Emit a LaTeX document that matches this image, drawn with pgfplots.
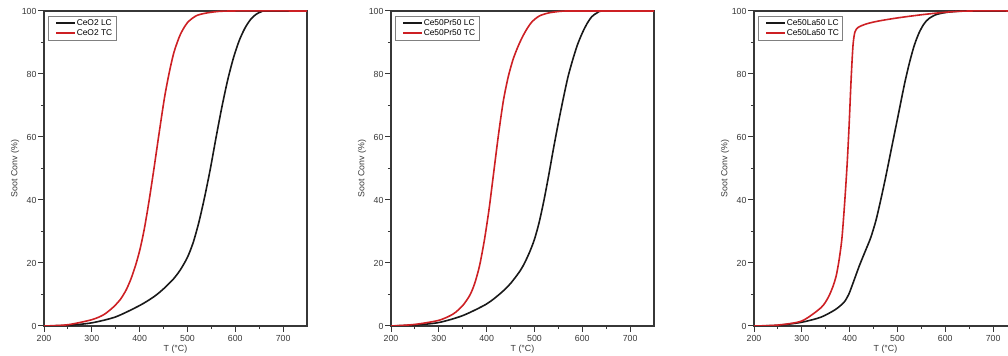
\documentclass[border=0pt]{standalone}
\usepackage{fontspec}
\setmainfont{Liberation Sans}
\usepackage{pgfplots}
\pgfplotsset{compat=1.18}
\definecolor{tcred}{RGB}{205,32,36}
\definecolor{lcblack}{RGB}{25,25,25}
\definecolor{axgray}{RGB}{55,55,55}
\newcommand{\smallf}{\fontsize{4.4}{5}\selectfont}
\newcommand{\legf}{\fontsize{4.2}{5}\selectfont}
\pgfplotsset{soot/.style={
  scale only axis, width=131.5pt, height=157.5pt, anchor=south west,
  xmin=200, xmax=750, ymin=0, ymax=100,
  xtick={200,300,...,700}, minor x tick num=1,
  ytick={0,20,...,100}, minor y tick num=1,
  tick pos=left, tick align=outside,
  major tick length=3pt, minor tick length=1.6pt,
  axis line style={axgray, line width=0.75pt},
  every tick/.style={axgray, line width=0.5pt},
  /pgf/number format/assume math mode=true,
  ticklabel style={font=\smallf, text=axgray},
  xticklabel style={yshift=2pt},
  yticklabel style={xshift=2.75pt},
  xlabel={T (°C)}, ylabel={Soot Conv (\%)},
  label style={font=\smallf, text=axgray},
  xlabel style={at={(axis description cs:0.5,0)}, anchor=center, yshift=-11.5pt},
  ylabel style={at={(axis description cs:0,0.5)}, anchor=center, yshift=14.5pt},
  legend style={at={(0,1)}, anchor=north west, xshift=2pt, yshift=-2.3pt,
    draw=gray, line width=0.4pt, font=\legf, inner xsep=1.6pt, inner ysep=1.2pt,
    row sep=0.4pt, nodes={inner sep=0.3pt, text height=3.1pt, text depth=0.9pt}},
  legend cell align=left,
  legend image code/.code={\path (0pt,0pt); \draw[#1, line width=0.75pt] (2pt,0pt) -- (11.5pt,0pt);},
  every axis plot/.append style={line width=0.8pt, smooth, tension=0.45, mark=none},
}}
\begin{document}
\begin{tikzpicture}
% Panel 1: CeO2
\begin{axis}[soot, at={(22pt,15pt)}]
\addplot[lcblack] coordinates {
(200,0) (250,0.2) (300,1.0) (350,2.9) (400,6.5) (430,9.3) (450,11.8) (470,14.8)
(485,17.8) (500,21.8) (512,26.5) (524,33) (536,41) (548,50) (560,60) (572,69.5)
(584,78) (596,85) (608,90.5) (620,94.5) (632,97.3) (644,99) (655,99.8) (665,100) (750,100)};
\addplot[tcred] coordinates {
(200,0) (250,0.4) (300,2.0) (325,3.6) (345,6) (360,8.5) (372,11.5) (382,15)
(392,19.5) (401,24.5) (410,31) (420,40) (430,50) (441,61.5) (452,72.5) (462,80.5)
(472,87) (485,92.5) (500,96.3) (520,98.6) (550,99.6) (590,100) (750,100)};
\legend{CeO2 LC, CeO2 TC}
\end{axis}
% Panel 2: Ce50Pr50
\begin{axis}[soot, at={(195.5pt,15pt)}]
\addplot[lcblack] coordinates {
(200,0) (250,0.3) (300,1.1) (350,3.3) (400,7) (430,10.5) (450,13.5) (470,17.5)
(480,20.2) (490,23.5) (500,27.5) (510,33) (520,40) (530,48) (540,56.5) (550,64.5)
(560,72) (570,79) (580,84.5) (590,89.3) (600,93) (610,96) (620,98.2) (632,99.5)
(646,100) (750,100)};
\addplot[tcred] coordinates {
(200,0) (250,0.5) (300,1.8) (330,3.8) (350,6.5) (365,9.8) (375,13.5) (385,19)
(395,27) (405,37) (415,49) (425,61) (435,71.5) (445,79) (455,84.5) (465,88.5)
(475,91.8) (485,94.5) (495,96.6) (510,98.4) (530,99.4) (555,99.9) (580,100) (750,100)};
\legend{Ce50Pr50 LC, Ce50Pr50 TC}
\end{axis}
% Panel 3: Ce50La50
\begin{axis}[soot, at={(377pt,15pt)}]
\addplot[lcblack] coordinates {
(200,0) (250,0.2) (300,1.2) (340,2.8) (370,5.2) (388,7.5) (398,10) (408,14)
(420,19) (432,23.5) (444,28) (455,33.5) (465,40) (475,47) (485,54.5) (495,62)
(505,69.5) (515,77) (525,83.5) (535,89) (545,93) (555,95.8) (565,97.5) (580,98.8)
(600,99.5) (625,99.9) (650,100) (750,100)};
\addplot[tcred] coordinates {
(200,0) (250,0.3) (300,1.6) (340,5.8) (355,9) (365,12.5) (372,16) (378,21)
(384,28) (390,40) (395,52) (399,64) (403,78) (407,89) (411,93.3) (418,94.8)
(435,95.9) (460,96.8) (500,97.8) (550,98.8) (600,99.6) (650,100) (750,100)};
\legend{Ce50La50 LC, Ce50La50 TC}
\end{axis}
\pgfresetboundingbox
\useasboundingbox (0,0) rectangle (504pt,178pt);
\end{tikzpicture}
\end{document}
